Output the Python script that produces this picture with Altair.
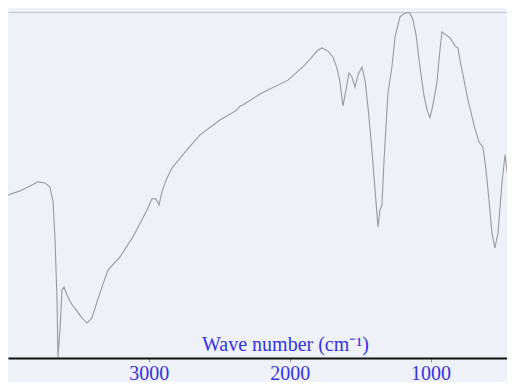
import altair as alt
import pandas as pd

wavenumber = [4000, 3915, 3844, 3787, 3737, 3702, 3680, 3666, 3652, 3645, 3631, 3617, 3602, 3581,
              3553, 3517, 3475, 3439, 3404, 3368, 3333, 3290, 3205, 3113, 3013, 2978, 2950, 2928,
              2907, 2878, 2836, 2743, 2637, 2495, 2374, 2353, 2332, 2211, 2012, 1891, 1799, 1771,
              1728, 1693, 1664, 1643, 1622, 1600, 1579, 1558, 1536, 1515, 1487, 1465, 1444, 1416,
              1394, 1373, 1359, 1345, 1330, 1302, 1274, 1252, 1217, 1181, 1146, 1124, 1103, 1075,
              1047, 1025, 1004, 983, 955, 933, 919, 897, 862, 826, 805, 791, 762, 734, 691, 656,
              628, 606, 585, 564, 543, 521, 493, 471, 450, 429, 400]
transmittance = [47.1, 48.3, 49.7, 50.9, 50.6, 49.4, 45.1, 34.1, 16.8, 0.3, 8.1, 19.7, 20.5, 18.2,
                 15.9, 13.9, 11.6, 10.1, 11.6, 16.2, 20.5, 25.4, 29.2, 35.0, 42.8, 46.0, 46.0, 44.2,
                 48.0, 51.4, 54.9, 59.5, 64.5, 68.8, 71.7, 72.8, 73.1, 76.3, 80.3, 84.7, 89.0, 89.6,
                 88.7, 87.0, 83.8, 79.8, 72.8, 77.5, 82.4, 81.2, 78.3, 81.8, 84.1, 80.3, 72.5, 60.1,
                 48.6, 37.9, 42.8, 44.2, 57.2, 76.6, 84.1, 92.8, 98.6, 99.7, 99.7, 97.7, 93.4, 84.1,
                 76.0, 71.7, 69.4, 73.1, 79.5, 89.0, 94.2, 93.6, 92.5, 90.2, 89.6, 86.1, 80.3, 74.6,
                 67.3, 62.4, 61.0, 54.3, 45.7, 36.1, 31.8, 36.1, 50.6, 58.7, 52.0, 53.8, 56.4]
tick_values = [3000, 2000, 1000]

df = pd.DataFrame({"wn": wavenumber, "t": transmittance})

xscale = alt.Scale(domain=[457, 4000], reverse=True, nice=False, zero=False)
yscale = alt.Scale(domain=[0, 100], nice=False)

spectrum = alt.Chart(df).mark_line(color="#9a9a9a", strokeWidth=1.1, clip=True).encode(
    x=alt.X("wn:Q", scale=xscale,
            axis=alt.Axis(values=tick_values, format="d", title="Wave number (cm⁻¹)", grid=False,
                          domainColor="#111", domainWidth=2, tickColor="#999", tickSize=4,
                          labelFont="Liberation Serif", labelFontSize=20, labelColor="#3434e0",
                          labelPadding=1, titleFont="Liberation Serif", titleFontSize=20,
                          titleFontWeight="normal", titleColor="#3434e0", titleX=277, titleY=-4,
                          titleBaseline="bottom")),
    y=alt.Y("t:Q", scale=yscale,
            axis=alt.Axis(labels=False, ticks=False, title=None, grid=False,
                          domainColor="#333", domainWidth=1.5)),
)

frame_top = alt.Chart(df).mark_line(opacity=0, clip=True).encode(
    x=alt.X("wn:Q", scale=xscale,
            axis=alt.Axis(orient="top", labels=False, ticks=False, title=None, grid=False,
                          domainColor="#c4c6cc", domainWidth=1)),
    y=alt.Y("t:Q", scale=yscale, axis=None),
)

chart = alt.layer(spectrum, frame_top).resolve_axis(x="independent").properties(
    width=499, height=346,
    autosize=alt.AutoSizeParams(type="none"),
    padding={"left": 0, "top": 4, "right": 0, "bottom": 24},
    background="#eef1f8",
).configure_view(fill="#eef1f8", stroke=None)

chart.save("out.html", embed_options={"renderer": "svg", "actions": False})
